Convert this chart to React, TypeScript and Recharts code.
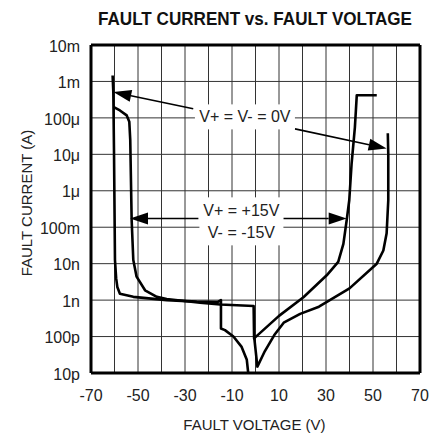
import React from 'react';
import { LineChart, Line, XAxis, YAxis, CartesianGrid, ReferenceLine, ReferenceDot } from 'recharts';

// X axis (fault voltage, V)
const xTicks = [-70, -60, -50, -40, -30, -20, -10, 0, 10, 20, 30, 40, 50, 60, 70];
const xLabeled = [-70, -50, -30, -10, 10, 30, 50, 70];

// Y axis (fault current, A) — log decades
const yTicks = [1e-11, 1e-10, 1e-9, 1e-8, 1e-7, 1e-6, 1e-5, 1e-4, 1e-3, 1e-2];
const yTickLabels = ['10p', '100p', '1n', '10n', '100m', '1μ', '10μ', '100μ', '1m', '10m'];

// Curve: V+ = V- = 0V (left branch)
const zeroLeftV = [-60.8, -60.5, -60.2, -59.8, -59.3, -58.8, -57.7, -52, -37.8, -25, -16, -14.7, -14.7, -13, -9.4, -5.9, -3.7, -3.1];
const zeroLeftI = [1.45e-3, 5e-4, 1e-5, 1.26e-8, 4e-9, 2.3e-9, 1.5e-9, 1.23e-9, 1e-9, 9.1e-10, 8.9e-10, 1e-9, 1.66e-10, 1.5e-10, 1e-10, 5.2e-11, 2.3e-11, 1e-11];

// Curve: V+ = V- = 0V (right branch)
const zeroRightV = [-0.5, 0.8, 4, 8, 12, 19, 27, 40, 51.6, 54.4, 55.8, 56.5, 56.5, 56.3];
const zeroRightI = [8.9e-11, 1.5e-11, 4e-11, 1.1e-10, 2.4e-10, 4.2e-10, 6.6e-10, 2.1e-9, 1e-8, 2.3e-8, 6.8e-8, 5.5e-7, 1e-5, 3.8e-5];

// Curve: V+ = +15V, V- = -15V
const pm15V = [-60.5, -57.7, -54.8, -53.7, -53.3, -52.7, -52, -50.6, -47, -42, -37.8, -23.6, -15, -0.8, -0.6, 10, 20.4, 30.3, 35.2, 37.4, 38.8, 39.9, 40.9, 42.3, 43.1, 51.6];
const pm15I = [2e-4, 1.6e-4, 1.17e-4, 7.8e-5, 2.5e-5, 1.55e-7, 1.26e-8, 4.4e-9, 1.86e-9, 1.23e-9, 1.07e-9, 8.5e-10, 7.6e-10, 6.9e-10, 8.9e-11, 3.7e-10, 1.2e-9, 4.8e-9, 1.12e-8, 3.5e-8, 1.55e-7, 5.5e-7, 5.6e-6, 5.6e-5, 4.2e-4, 4.2e-4];

// Annotation arrows [tailV, tailI, tipV, tipI]
const zeroArrows = [
  [-26.5, 1.78e-4, -60.5, 5.1e-4],
  [16.8, 5e-5, 55.8, 1.45e-5],
];
const pm15Arrows = [
  [-24.3, 1.74e-7, -53.4, 1.74e-7],
  [11.8, 1.74e-7, 38.8, 1.74e-7],
];
const zeroLabelPos = [-4.5, 1.1e-4];
const pm15LabelPos = [-6, 1.45e-7];
const zeroLabelText = 'V+ = V- = 0V';
const pm15LabelLines = ['V+ = +15V', 'V- = -15V'];

const toData = (vs: number[], is: number[]) => vs.map((v, k) => ({ v, i: is[k] }));
const zeroLeft = toData(zeroLeftV, zeroLeftI);
const zeroRight = toData(zeroRightV, zeroRightI);
const pm15 = toData(pm15V, pm15I);

const FONT = '"Liberation Sans", Arial, Helvetica, sans-serif';
const TXT = '#222';

const fmtY = (val: number) => {
  const e = Math.round(Math.log10(val));
  const idx = yTicks.findIndex((t) => Math.round(Math.log10(t)) === e);
  return idx >= 0 ? yTickLabels[idx] : '';
};
const fmtX = (val: number) => (xLabeled.includes(val) ? String(val) : '');

const Arrow = (props: any) => {
  const { x1, y1, x2, y2 } = props;
  const dx = x2 - x1;
  const dy = y2 - y1;
  const len = Math.sqrt(dx * dx + dy * dy) || 1;
  const ux = dx / len;
  const uy = dy / len;
  const L = 18;
  const W = 6;
  const bx = x2 - ux * L;
  const by = y2 - uy * L;
  const p1 = `${x2},${y2}`;
  const p2 = `${bx - uy * W},${by + ux * W}`;
  const p3 = `${bx + uy * W},${by - ux * W}`;
  return (
    <g>
      <line x1={x1} y1={y1} x2={bx} y2={by} stroke="#000" strokeWidth={1.6} />
      <polygon points={`${p1} ${p2} ${p3}`} fill="#000" />
    </g>
  );
};

const ZeroLabel = (props: any) => {
  const { cx, cy } = props;
  return (
    <g>
      <rect x={cx - 50} y={cy - 12} width={100} height={25} fill="#fff" />
      <text x={cx} y={cy} textAnchor="middle" dominantBaseline="central" fontFamily={FONT} fontSize={16} fill={TXT}>
        {zeroLabelText}
      </text>
    </g>
  );
};

const Pm15Label = (props: any) => {
  const { cx, cy } = props;
  return (
    <g>
      <rect x={cx - 42} y={cy - 24} width={84} height={48} fill="#fff" />
      <text x={cx} y={cy - 11} textAnchor="middle" dominantBaseline="central" fontFamily={FONT} fontSize={16} fill={TXT}>
        {pm15LabelLines[0]}
      </text>
      <text x={cx} y={cy + 11} textAnchor="middle" dominantBaseline="central" fontFamily={FONT} fontSize={16} fill={TXT}>
        {pm15LabelLines[1]}
      </text>
    </g>
  );
};

export default function App() {
  return (
    <div style={{ position: 'absolute', left: 0, top: 0, width: 434, height: 445, background: '#fff' }}>
      <LineChart width={434} height={445} margin={{ top: 45, right: 14, bottom: 0, left: 0 }}>
        <CartesianGrid horizontal={{ stroke: '#222' } as any} vertical={{ stroke: '#555' } as any} stroke="#333" strokeWidth={1} />
        <XAxis
          type="number"
          dataKey="v"
          domain={[-70, 70]}
          ticks={xTicks}
          tickFormatter={fmtX}
          allowDataOverflow
          height={72}
          tickLine={false}
          tickSize={6}
          tickMargin={11}
          axisLine={{ stroke: '#000', strokeWidth: 3 }}
          tick={{ fill: TXT, fontSize: 16, fontFamily: FONT }}
        />
        <YAxis
          type="number"
          scale="log"
          domain={[1e-11, 1e-2]}
          ticks={yTicks}
          tickFormatter={fmtY}
          allowDataOverflow
          width={91}
          tickLine={false}
          tickSize={6}
          tickMargin={5}
          axisLine={{ stroke: '#000', strokeWidth: 3 }}
          tick={{ fill: TXT, fontSize: 16, fontFamily: FONT, dy: 1 }}
        />
        <ReferenceLine y={1e-2} stroke="#000" strokeWidth={3} />
        <ReferenceLine x={70} stroke="#000" strokeWidth={3} />
        <ReferenceDot x={zeroLabelPos[0]} y={zeroLabelPos[1]} r={1} shape={<ZeroLabel />} />
        <ReferenceDot x={pm15LabelPos[0]} y={pm15LabelPos[1]} r={1} shape={<Pm15Label />} />
        {zeroArrows.concat(pm15Arrows).map((a, k) => (
          <ReferenceLine
            key={`arr${k}`}
            segment={[{ x: a[0], y: a[1] }, { x: a[2], y: a[3] }]}
            shape={<Arrow />}
          />
        ))}
        <Line data={zeroLeft} dataKey="i" type="linear" dot={false} stroke="#000" strokeWidth={2.6} strokeLinejoin="round" isAnimationActive={false} />
        <Line data={zeroRight} dataKey="i" type="linear" dot={false} stroke="#000" strokeWidth={2.6} strokeLinejoin="round" isAnimationActive={false} />
        <Line data={pm15} dataKey="i" type="linear" dot={false} stroke="#000" strokeWidth={2.6} strokeLinejoin="round" isAnimationActive={false} />
      </LineChart>
      <svg width={434} height={445} style={{ position: 'absolute', left: 0, top: 0, pointerEvents: 'none' }}>
        <text x={255} y={25} textAnchor="middle" fontFamily={FONT} fontWeight="bold" fontSize={18} fill="#111" textLength={314} lengthAdjust="spacingAndGlyphs">
          FAULT CURRENT vs. FAULT VOLTAGE
        </text>
        <text x={254.5} y={430} textAnchor="middle" fontFamily={FONT} fontSize={15} fill={TXT}>
          FAULT VOLTAGE (V)
        </text>
        <text transform="translate(31.5,203) rotate(-90)" x={0} y={0} textAnchor="middle" fontFamily={FONT} fontSize={15} fill={TXT}>
          FAULT CURRENT (A)
        </text>
      </svg>
    </div>
  );
}
